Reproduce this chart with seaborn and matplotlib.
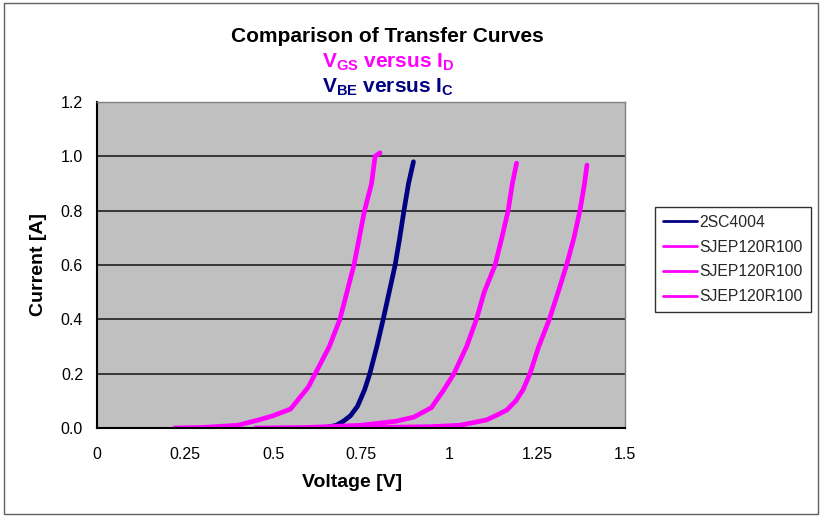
import matplotlib.pyplot as plt
import seaborn as sns
import pandas as pd
import numpy as np
from matplotlib.lines import Line2D
from matplotlib.patches import Rectangle

# curve data
bjt_v = [0.60, 0.65, 0.68, 0.70, 0.72, 0.74, 0.76, 0.775, 0.795, 0.813, 0.83, 0.847, 0.86, 0.872, 0.885, 0.899]
bjt_i = [0.0, 0.002, 0.01, 0.025, 0.045, 0.08, 0.14, 0.2, 0.3, 0.4, 0.5, 0.6, 0.7, 0.8, 0.9, 0.98]

jfet1_v = [0.22, 0.30, 0.40, 0.46, 0.50, 0.55, 0.60, 0.62, 0.66, 0.69, 0.71, 0.73, 0.745, 0.76, 0.78, 0.79, 0.804]
jfet1_i = [0.0, 0.002, 0.01, 0.03, 0.045, 0.07, 0.15, 0.2, 0.3, 0.4, 0.5, 0.6, 0.7, 0.8, 0.9, 1.0, 1.013]

jfet2_v = [0.45, 0.60, 0.75, 0.85, 0.90, 0.95, 0.985, 1.014, 1.05, 1.078, 1.10, 1.131, 1.15, 1.168, 1.18, 1.192]
jfet2_i = [0.0, 0.002, 0.01, 0.025, 0.04, 0.075, 0.14, 0.2, 0.3, 0.4, 0.5, 0.6, 0.7, 0.8, 0.9, 0.975]

jfet3_v = [0.60, 0.80, 0.95, 1.03, 1.07, 1.107, 1.14, 1.164, 1.19, 1.21, 1.23, 1.255, 1.285, 1.31, 1.334, 1.355, 1.372, 1.385, 1.392]
jfet3_i = [0.0, 0.002, 0.005, 0.01, 0.02, 0.03, 0.05, 0.066, 0.1, 0.14, 0.2, 0.3, 0.4, 0.5, 0.6, 0.7, 0.8, 0.9, 0.968]

x_ticks = [0, 0.25, 0.5, 0.75, 1, 1.25, 1.5]
x_labels = ['0', '0.25', '0.5', '0.75', '1', '1.25', '1.5']
y_ticks = [0.0, 0.2, 0.4, 0.6, 0.8, 1.0, 1.2]

legend_names = ['2SC4004', 'SJEP120R100', 'SJEP120R100', 'SJEP120R100']
navy = '#000080'
magenta = '#FF00FF'

frames = []
for key, v, i in [('bjt', bjt_v, bjt_i), ('j1', jfet1_v, jfet1_i),
                  ('j2', jfet2_v, jfet2_i), ('j3', jfet3_v, jfet3_i)]:
    frames.append(pd.DataFrame({'voltage': v, 'current': i, 'curve': key}))
df = pd.concat(frames, ignore_index=True)

sns.set_style("white")
plt.rcParams['font.family'] = ['Liberation Sans', 'DejaVu Sans']
plt.rcParams['mathtext.fontset'] = 'custom'
plt.rcParams['mathtext.rm'] = 'Liberation Sans:bold'
plt.rcParams['mathtext.bf'] = 'Liberation Sans:bold'
plt.rcParams['mathtext.it'] = 'Liberation Sans:bold'

fig = plt.figure(figsize=(8.22, 5.16), dpi=100)
ax = fig.add_axes([97/822, 1-428/516, (625-97)/822, (428-102)/516])
ax.set_facecolor('#C0C0C0')

pal = {'bjt': navy, 'j1': magenta, 'j2': magenta, 'j3': magenta}
sns.lineplot(data=df, x='voltage', y='current', hue='curve', palette=pal,
             sort=False, estimator=None, linewidth=3.4, legend=False, ax=ax)

ax.set_xlim(0, 1.5)
ax.set_ylim(0, 1.2)
ax.set_xticks(x_ticks)
ax.set_xticklabels(x_labels)
ax.set_yticks(y_ticks)
ax.set_yticklabels(['%.1f' % t for t in y_ticks])
ax.yaxis.grid(True, color='#202020', linewidth=1.2)
ax.set_axisbelow(True)
ax.tick_params(axis='x', direction='in', length=4, labelsize=11.5, pad=14, colors='black')
ax.tick_params(axis='y', direction='out', length=4, labelsize=11.5, pad=6, colors='black')
for s in ['left', 'bottom']:
    ax.spines[s].set_color('black')
    ax.spines[s].set_linewidth(1.5)
for s in ['top', 'right']:
    ax.spines[s].set_color('#808080')
    ax.spines[s].set_linewidth(1.0)

ax.set_xlabel('Voltage [V]', fontsize=14, fontweight='bold', color='black')
ax.xaxis.set_label_coords((352-97)/528, -(474-428)/326)
ax.set_ylabel('Current [A]', fontsize=14, fontweight='bold', color='black')
ax.yaxis.set_label_coords(-(97-47)/528, 0.5)

fig.text(387/822, 1-36/516, 'Comparison of Transfer Curves', ha='center', va='center',
         fontsize=15, fontweight='bold', color='black')
fig.text(388/822, 1-62/516, r'V$_{\mathbf{GS}}$ versus I$_{\mathbf{D}}$', ha='center', va='center',
         fontsize=15, fontweight='bold', color=magenta)
fig.text(388/822, 1-87/516, r'V$_{\mathbf{BE}}$ versus I$_{\mathbf{C}}$', ha='center', va='center',
         fontsize=15, fontweight='bold', color=navy)

handles = [Line2D([0], [0], color=c, lw=2) for c in [navy, magenta, magenta, magenta]]
leg = fig.legend(handles, legend_names, loc='upper left',
                 bbox_to_anchor=(655/822, 1-207/516), fontsize=11.3, borderaxespad=0,
                 frameon=True, fancybox=False, edgecolor='black',
                 handlelength=2.2, handletextpad=0.15, borderpad=0.5, labelspacing=0.62)
leg.get_frame().set_linewidth(1.0)

fig.patches.append(Rectangle((4/822, 2/516), 814/822, 511/516, transform=fig.transFigure,
                             fill=False, edgecolor='#606060', linewidth=1.0))

fig.savefig('out.png', dpi=100)
